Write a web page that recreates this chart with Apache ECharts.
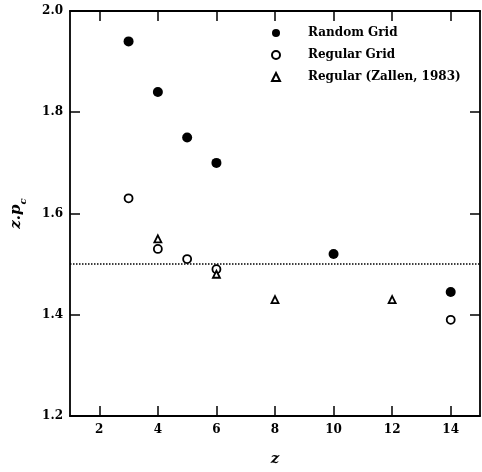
<!DOCTYPE html>
<html>
<head>
<meta charset="utf-8">
<script src="https://cdn.jsdelivr.net/npm/echarts@6/dist/echarts.min.js"></script>
<style>html,body{margin:0;padding:0;background:#fff}#c{width:482px;height:472px}</style>
</head>
<body>
<div id="c"></div>
<script>
const xTicks = [2, 4, 6, 8, 10, 12, 14];
const yTicks = [1.2, 1.4, 1.6, 1.8, 2.0];
const randomZ = [3, 4, 5, 6, 10, 14];
const randomVals = [1.94, 1.84, 1.75, 1.70, 1.52, 1.445];
const regularZ = [3, 4, 5, 6, 14];
const regularVals = [1.63, 1.53, 1.51, 1.49, 1.39];
const zallenZ = [4, 6, 8, 12];
const zallenVals = [1.55, 1.48, 1.43, 1.43];
const refLine = 1.5;
const seriesNames = ['Random Grid', 'Regular Grid', 'Regular (Zallen, 1983)'];

const font = 'DejaVu Serif';
const pair = (xs, ys) => xs.map((x, i) => [x, ys[i]]);
const chart = echarts.init(document.getElementById('c'));
const axisLine = { show: true, lineStyle: { color: '#000', width: 1.8 } };
const xBase = {
  type: 'value', min: 1, max: 15,
  axisLine: axisLine,
  splitLine: { show: false },
  axisTick: { inside: true, length: 10, customValues: xTicks, lineStyle: { color: '#000', width: 1.5 } }
};
const yBase = {
  type: 'value', min: 1.2, max: 2.0, interval: 0.2,
  axisLine: axisLine,
  splitLine: { show: false },
  axisTick: { inside: true, length: 10, lineStyle: { color: '#000', width: 1.5 } }
};
chart.setOption({
  animation: false,
  grid: { left: 70, right: 2, top: 11, bottom: 53 },
  xAxis: [
    Object.assign({}, xBase, {
      position: 'bottom',
      name: 'z', nameLocation: 'middle', nameGap: 36,
      nameTextStyle: { fontFamily: font, fontStyle: 'italic', fontWeight: 'bold', fontSize: 15, color: '#000' },
      axisLabel: { customValues: xTicks, fontFamily: font, fontWeight: 'bold', fontSize: 12, color: '#000', margin: 8 }
    }),
    Object.assign({}, xBase, { position: 'top', axisLabel: { show: false } })
  ],
  yAxis: [
    Object.assign({}, yBase, {
      position: 'left',
      name: '{a|z.p}{b|c}', nameLocation: 'middle', nameGap: 46, nameRotate: 90,
      nameTextStyle: {
        rich: {
          a: { fontFamily: font, fontStyle: 'italic', fontWeight: 'bold', fontSize: 15, color: '#000', lineHeight: 20, verticalAlign: 'bottom' },
          b: { fontFamily: font, fontStyle: 'italic', fontWeight: 'bold', fontSize: 10, color: '#000', lineHeight: 20, verticalAlign: 'bottom', padding: [0, 0, -4, 0] }
        }
      },
      axisLabel: { fontFamily: font, fontWeight: 'bold', fontSize: 12, color: '#000', margin: 7, formatter: v => v.toFixed(1) }
    }),
    Object.assign({}, yBase, { position: 'right', axisLabel: { show: false } })
  ],
  legend: {
    orient: 'vertical', left: 266, top: 21, itemWidth: 8, itemHeight: 8, itemGap: 8,
    data: [
      { name: seriesNames[0], icon: 'circle' },
      { name: seriesNames[1], icon: 'circle' },
      { name: seriesNames[2], icon: 'triangle' }
    ],
    textStyle: { fontFamily: font, fontWeight: 'bold', fontSize: 12, color: '#000', lineHeight: 14, padding: [0, 0, 0, 23] }
  },
  series: [
    {
      name: seriesNames[0], type: 'scatter', data: pair(randomZ, randomVals),
      symbol: 'circle', symbolSize: 10, itemStyle: { color: '#000', opacity: 1 },
      markLine: {
        silent: true, symbol: 'none', label: { show: false },
        lineStyle: { color: '#000', type: 'dotted', width: 1.5 },
        data: [{ yAxis: refLine }]
      }
    },
    {
      name: seriesNames[1], type: 'scatter', data: pair(regularZ, regularVals),
      symbol: 'circle', symbolSize: 8, itemStyle: { color: '#fff', borderColor: '#000', borderWidth: 1.8, opacity: 1 }
    },
    {
      name: seriesNames[2], type: 'scatter', data: pair(zallenZ, zallenVals),
      symbol: 'triangle', symbolSize: 7, itemStyle: { color: '#fff', borderColor: '#000', borderWidth: 1.8, opacity: 1 }
    }
  ]
});
</script>
</body>
</html>
